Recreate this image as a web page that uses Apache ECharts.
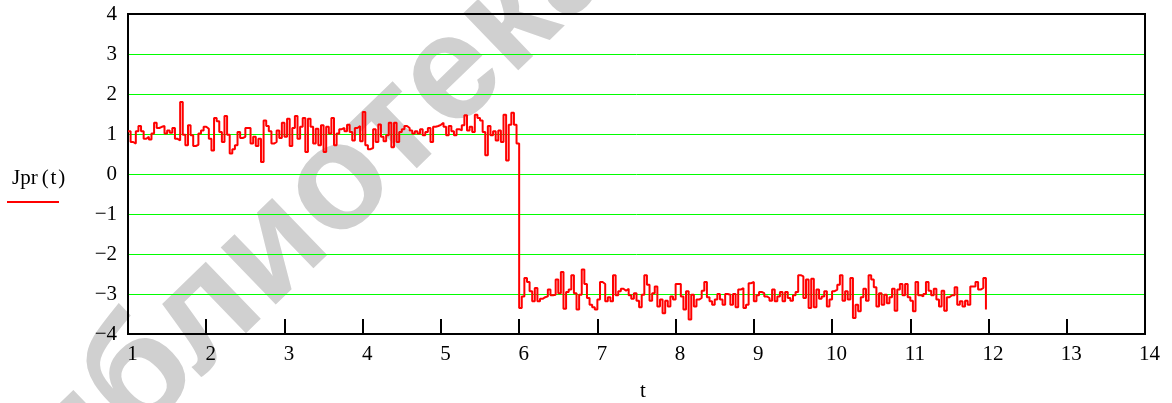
<!DOCTYPE html>
<html>
<head>
<meta charset="utf-8">
<script src="https://cdn.jsdelivr.net/npm/echarts@6/dist/echarts.min.js"></script>
<style>
  html, body { margin: 0; padding: 0; background: #fff; }
  #chart { width: 1172px; height: 403px; }
</style>
</head>
<body>
<div id="chart"></div>
<script>
// Sampling of the signal: first sample time and step between samples
const T_START = 1;
const T_STEP = 1 / 30;

// Jpr(t) before the switch at t = 6
const jprBefore = [
  1.07, 0.80, 0.76, 1.07, 1.20, 1.07, 0.88, 0.93, 0.86, 1.01,
  1.28, 1.15, 1.18, 1.20, 1.01, 1.09, 1.03, 1.15, 0.88, 0.84,
  1.80, 0.98, 0.72, 1.22, 0.97, 0.70, 0.73, 1.01, 1.09, 1.18,
  1.13, 0.88, 0.59, 1.40, 1.32, 1.05, 0.80, 1.45, 0.98, 0.51,
  0.62, 0.72, 1.05, 0.90, 0.93, 1.15, 1.15, 0.76, 0.93, 0.70,
  0.88, 0.30, 1.34, 1.20, 1.07, 0.76, 0.80, 1.09, 0.90, 1.28,
  0.93, 1.38, 0.70, 1.15, 1.45, 0.88, 1.18, 1.40, 0.55, 1.38,
  1.18, 0.76, 1.13, 0.72, 1.22, 0.55,
  1.18, 1.01, 1.40, 0.72, 1.01, 1.12, 1.15, 1.07, 1.23, 1.05,
  0.84, 1.15, 1.20, 0.82, 1.55, 0.72, 0.62, 0.65, 1.12, 0.80,
  1.24, 0.93, 0.82, 0.97, 1.28, 0.67, 1.28, 0.80, 1.05, 1.12,
  1.20, 1.15, 1.09, 1.01, 1.07, 1.01, 1.12, 0.97, 1.05, 1.15,
  0.80, 1.18, 1.20, 1.23, 1.28, 1.18, 0.97, 1.20, 1.07, 0.97,
  1.12, 1.09, 1.22, 1.47, 1.09, 1.18, 1.05, 1.48, 1.40, 1.34,
  1.05, 0.47, 1.20, 0.97, 1.07, 0.84, 1.09, 0.80, 1.48, 0.34,
  1.23, 1.53, 1.23, 0.76
];

// Jpr(t) from t = 6 up to t = 12
const jprAfter = [
  -3.35, -3.06, -2.60, -2.70, -2.93, -3.18, -2.85, -3.18, -3.12, -3.08,
  -3.06, -2.89, -3.03, -3.02, -2.64, -2.98, -2.45, -3.37, -2.95, -2.89,
  -2.53, -2.98, -3.39, -3.02, -2.39, -2.75, -3.10, -3.27, -3.33, -3.39,
  -3.14, -2.70, -2.75, -3.18, -3.08, -3.18, -2.53, -3.03, -2.93, -2.87,
  -2.92, -2.87, -3.03, -3.12, -2.98, -3.17, -3.33, -3.02, -2.53, -2.77,
  -3.17, -2.98, -2.81, -3.31, -3.14, -3.48, -3.17, -3.31, -3.06, -3.14,
  -2.75, -2.75, -3.06, -3.39, -2.93, -3.64, -3.02, -3.31, -3.14, -3.10,
  -2.92, -2.70, -3.08, -3.18, -3.27, -3.14, -3.00, -3.14, -3.27, -3.00,
  -3.02, -3.27, -3.00, -3.33, -2.89, -2.85, -3.35, -3.27, -2.73, -2.70,
  -3.18, -3.03, -2.95, -2.98, -3.06, -3.10, -3.17, -2.89, -3.18, -3.06,
  -2.95, -3.18, -2.95, -3.10, -3.17, -3.03, -2.95, -2.53, -2.56, -3.10,
  -2.64, -3.35, -2.62, -3.33, -2.89, -3.12, -3.06, -2.93, -3.31, -3.14,
  -2.93, -2.89, -2.77, -2.53, -3.17, -2.93, -3.14, -2.60, -3.60, -3.27,
  -3.43, -3.08, -2.87, -3.17, -2.53, -2.64, -2.83, -3.31, -2.98, -3.27,
  -3.02, -3.23, -3.08, -2.87, -3.42, -2.89, -2.75, -3.03, -2.75, -3.08,
  -3.17, -3.43, -2.70, -3.03, -3.06, -3.00, -2.70, -2.92, -3.03, -2.87,
  -3.14, -3.31, -2.92, -3.42, -3.08, -3.03, -3.03, -2.83, -3.27, -3.18,
  -3.31, -3.17, -3.27, -2.81, -2.81, -2.70, -2.89, -2.85, -2.60,
  -3.39
];

// Axis ranges and tick spacing
const X_MIN = 1, X_MAX = 14, X_STEP = 1;
const Y_MIN = -4, Y_MAX = 4, Y_STEP = 1;

const jpr = jprBefore.concat(jprAfter);
const points = jpr.map((v, i) => [T_START + i * T_STEP, v]);

const SERIF = "'Liberation Serif', 'Times New Roman', serif";
const minus = v => String(v).replace('-', '\u2212');

const chart = echarts.init(document.getElementById('chart'), null, { renderer: 'canvas' });

chart.setOption({
  animation: false,
  backgroundColor: '#ffffff',
  grid: {
    left: 128, right: 27, top: 14, bottom: 69,
    show: true,
    borderColor: '#000000',
    borderWidth: 2,
    backgroundColor: 'transparent',
    z: 5
  },
  xAxis: {
    type: 'value',
    min: X_MIN, max: X_MAX, interval: X_STEP,
    axisLine: { show: false, onZero: false },
    axisTick: { show: true, inside: true, length: 15, lineStyle: { color: '#000', width: 2 } },
    splitLine: { show: false },
    axisLabel: {
      margin: 10,
      padding: [0, 0, 0, 9],
      fontFamily: SERIF, fontSize: 21, color: '#000'
    }
  },
  yAxis: {
    type: 'value',
    min: Y_MIN, max: Y_MAX, interval: Y_STEP,
    axisLine: { show: false },
    axisTick: { show: false },
    splitLine: { show: true, lineStyle: { color: '#00ff00', width: 1 } },
    axisLabel: {
      margin: 11,
      padding: [11, 0, 0, 0],
      fontFamily: SERIF, fontSize: 21, color: '#000',
      formatter: minus
    }
  },
  graphic: [
    {
      // faint background lettering behind the plot
      type: 'text', z: -10, silent: true,
      x: 285, y: 238, rotation: 44 * Math.PI / 180,
      style: {
        text: 'библиотека',
        font: "bold 150px 'Liberation Sans', Arial, sans-serif",
        fill: '#d0d0d0',
        textAlign: 'center', textVerticalAlign: 'middle'
      }
    },
    {
      type: 'text', z: 20,
      x: 12, y: 178,
      style: {
        text: 'Jpr\u2009(\u200at\u200a)',
        font: "21px " + SERIF, fill: '#000',
        textAlign: 'left', textVerticalAlign: 'middle'
      }
    },
    {
      type: 'line', z: 20,
      shape: { x1: 7, y1: 202, x2: 59, y2: 202 },
      style: { stroke: '#ff0000', lineWidth: 2 }
    },
    {
      type: 'text', z: 20,
      x: 643, y: 391,
      style: {
        text: 't',
        font: "21px " + SERIF, fill: '#000',
        textAlign: 'center', textVerticalAlign: 'middle'
      }
    }
  ],
  series: [{
    name: 'Jpr(t)',
    type: 'line',
    step: 'end',
    data: points,
    showSymbol: false,
    symbol: 'none',
    lineStyle: { color: '#ff0000', width: 2 },
    z: 10
  }]
});
</script>
</body>
</html>
